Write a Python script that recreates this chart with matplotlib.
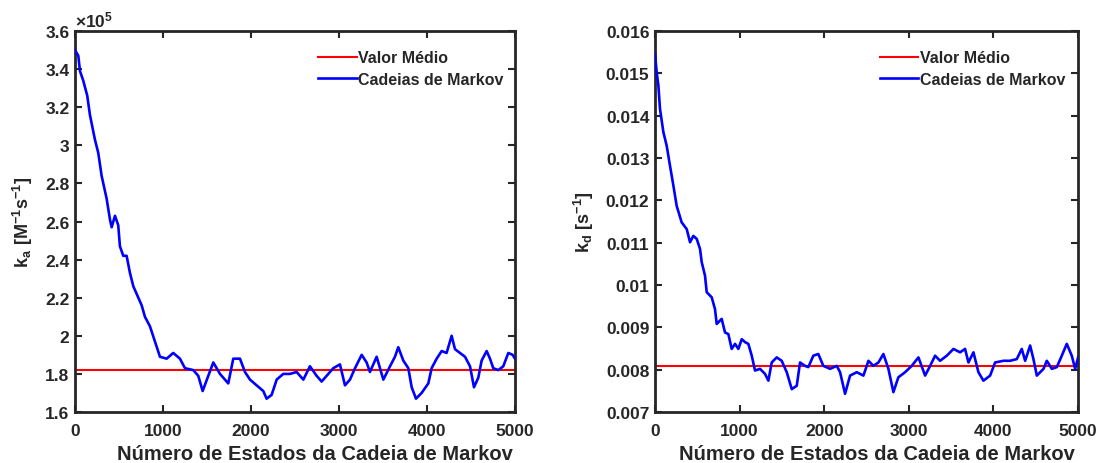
import matplotlib
matplotlib.use('Agg')
import matplotlib.pyplot as plt
from matplotlib.ticker import FuncFormatter
import numpy as np

plt.rcParams['font.family'] = ['Liberation Sans', 'DejaVu Sans']
plt.rcParams['font.weight'] = 'bold'
plt.rcParams['mathtext.fontset'] = 'custom'
plt.rcParams['mathtext.rm'] = 'Liberation Sans:bold'
plt.rcParams['mathtext.bf'] = 'Liberation Sans:bold'
plt.rcParams['mathtext.it'] = 'Liberation Sans:bold'

# cadeia de Markov para k_a (valores em unidades de 1e5)
ka_passo = [0, 38, 57, 94, 140, 170, 227, 265, 303, 360,
            398, 417, 455, 492, 511, 549, 587, 625, 663, 701,
            758, 795, 852, 909, 966, 1042, 1117, 1193, 1250, 1345,
            1401, 1451, 1515, 1572, 1648, 1742, 1799, 1875, 1932, 1989,
            2064, 2140, 2178, 2235, 2292, 2367, 2443, 2519, 2595, 2670,
            2746, 2803, 2860, 2935, 3011, 3068, 3125, 3182, 3258, 3314,
            3352, 3428, 3504, 3580, 3636, 3674, 3731, 3788, 3826, 3875,
            3939, 4015, 4053, 4110, 4167, 4223, 4280, 4318, 4375, 4432,
            4489, 4534, 4583, 4621, 4678, 4716, 4753, 4810, 4867, 4924,
            4974, 5000]
ka_e5 = [3.50, 3.47, 3.39, 3.34, 3.26, 3.16, 3.03, 2.96, 2.84, 2.72,
         2.61, 2.57, 2.63, 2.58, 2.47, 2.42, 2.42, 2.33, 2.26, 2.22,
         2.16, 2.10, 2.05, 1.97, 1.89, 1.88, 1.91, 1.88, 1.83, 1.82,
         1.79, 1.71, 1.79, 1.86, 1.80, 1.75, 1.88, 1.88, 1.81, 1.77,
         1.74, 1.71, 1.67, 1.69, 1.77, 1.80, 1.80, 1.81, 1.77, 1.84,
         1.79, 1.76, 1.79, 1.83, 1.85, 1.74, 1.77, 1.83, 1.90, 1.86,
         1.81, 1.89, 1.77, 1.84, 1.89, 1.94, 1.87, 1.83, 1.73, 1.67,
         1.70, 1.75, 1.83, 1.88, 1.92, 1.91, 2.00, 1.93, 1.91, 1.89,
         1.84, 1.73, 1.78, 1.87, 1.92, 1.88, 1.83, 1.82, 1.84, 1.91,
         1.90, 1.88]
ka_medio = 1.82

# cadeia de Markov para k_d
kd_passo = [0, 20, 40, 59, 99, 138, 177, 217, 256, 315,
            375, 414, 453, 493, 532, 552, 591, 611, 670, 709,
            729, 788, 827, 867, 906, 946, 985, 1025, 1064, 1103,
            1143, 1182, 1241, 1300, 1340, 1379, 1438, 1497, 1557, 1616,
            1675, 1714, 1773, 1812, 1871, 1930, 1989, 2069, 2148, 2187,
            2246, 2305, 2384, 2463, 2522, 2581, 2640, 2699, 2758, 2817,
            2876, 2955, 3034, 3113, 3192, 3251, 3310, 3369, 3448, 3527,
            3605, 3664, 3704, 3763, 3822, 3881, 3960, 4019, 4118, 4196,
            4275, 4334, 4374, 4433, 4472, 4512, 4591, 4630, 4689, 4748,
            4807, 4866, 4925, 4965, 5000]
kd = [0.01546, 0.01502, 0.01471, 0.01416, 0.01361, 0.01329, 0.01282, 0.01235, 0.01187, 0.01148,
      0.01132, 0.01101, 0.01116, 0.01109, 0.01085, 0.01054, 0.01022, 0.00983, 0.00971, 0.00943,
      0.00908, 0.00920, 0.00888, 0.00884, 0.00849, 0.00861, 0.00849, 0.00872, 0.00865, 0.00861,
      0.00833, 0.00798, 0.00802, 0.00790, 0.00774, 0.00817, 0.00829, 0.00821, 0.00794, 0.00754,
      0.00762, 0.00817, 0.00809, 0.00806, 0.00833, 0.00837, 0.00809, 0.00802, 0.00809, 0.00794,
      0.00743, 0.00786, 0.00794, 0.00786, 0.00821, 0.00809, 0.00817, 0.00837, 0.00802, 0.00747,
      0.00782, 0.00794, 0.00809, 0.00829, 0.00786, 0.00809, 0.00833, 0.00821, 0.00833, 0.00849,
      0.00841, 0.00849, 0.00817, 0.00841, 0.00794, 0.00774, 0.00786, 0.00817, 0.00821, 0.00821,
      0.00825, 0.00849, 0.00821, 0.00857, 0.00825, 0.00786, 0.00802, 0.00821, 0.00802, 0.00806,
      0.00833, 0.00861, 0.00833, 0.00802, 0.00829]
kd_medio = 0.00808

cinza = '#262626'
fig = plt.figure(figsize=(10.99, 4.64), dpi=100)
ax1 = fig.add_axes([0.0682, 0.1099, 0.4004, 0.8211])
ax2 = fig.add_axes([0.596, 0.1099, 0.385, 0.8211])

paineis = [
    (ax1, ka_passo, ka_e5, ka_medio, (1.6, 3.6), np.arange(1.6, 3.61, 0.2),
     r'$\mathbf{k_a\ [M^{-1}s^{-1}]}$', 0.545, 1.018),
    (ax2, kd_passo, kd, kd_medio, (0.007, 0.016), np.arange(0.007, 0.01601, 0.001),
     r'$\mathbf{k_d\ [s^{-1}]}$', 0.525, 1.014),
]

for ax, x, y, medio, ylim, yticks, ylab, xlab_c, leg_x in paineis:
    ax.plot([0, 5000], [medio, medio], color='#ff0000', lw=1.5, label='Valor Médio', zorder=2)
    ax.plot(x, y, color='#0000ff', lw=1.9, label='Cadeias de Markov', zorder=3)
    ax.set_xlim(0, 5000)
    ax.set_ylim(*ylim)
    ax.set_xticks([0, 1000, 2000, 3000, 4000, 5000])
    ax.set_yticks(yticks)
    ax.yaxis.set_major_formatter(FuncFormatter(lambda v, p: f'{round(v, 6):g}'))
    ax.tick_params(direction='in', top=True, right=True, length=5, width=1.5,
                   labelsize=12.5, colors=cinza, pad=4)
    ax.tick_params(axis='x', pad=8)
    for s in ax.spines.values():
        s.set_linewidth(2)
        s.set_color(cinza)
    ax.set_xlabel('Número de Estados da Cadeia de Markov', fontsize=14.5,
                  fontweight='bold', color=cinza)
    ax.xaxis.set_label_coords(xlab_c, -0.085)
    ax.set_ylabel(ylab, fontsize=13, color=cinza, labelpad=7)
    leg = ax.legend(loc='upper right', bbox_to_anchor=(leg_x, 1.0), frameon=False,
                    fontsize=11.5, handlelength=2.4, handletextpad=0.1,
                    labelspacing=0.4, borderaxespad=0.8)
    for t in leg.get_texts():
        t.set_color(cinza)
        t.set_fontweight('bold')

ax1.text(0.0, 1.005, r'$\times\mathregular{10^5}$', transform=ax1.transAxes,
         fontsize=12.5, color=cinza, ha='left', va='bottom')

fig.savefig('out.png', dpi=100, facecolor='white')
